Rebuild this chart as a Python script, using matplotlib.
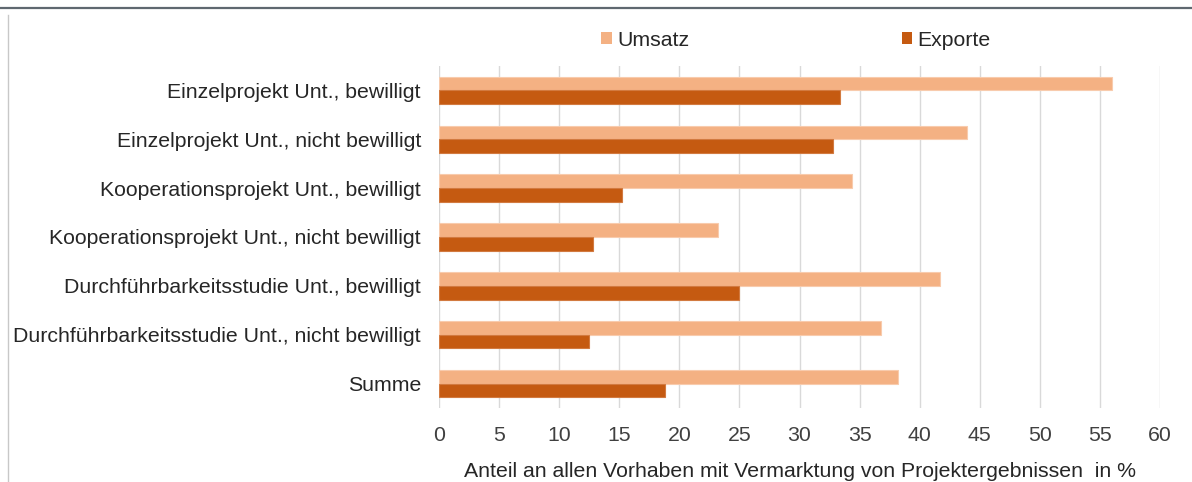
import matplotlib
matplotlib.use("Agg")
import matplotlib.pyplot as plt
from matplotlib.lines import Line2D
from matplotlib.patches import Patch
import numpy as np

categories = [
    "Einzelprojekt Unt., bewilligt",
    "Einzelprojekt Unt., nicht bewilligt",
    "Kooperationsprojekt Unt., bewilligt",
    "Kooperationsprojekt Unt., nicht bewilligt",
    "Durchführbarkeitsstudie Unt., bewilligt",
    "Durchführbarkeitsstudie Unt., nicht bewilligt",
    "Summe",
]
umsatz = [56.0, 43.9, 34.4, 23.2, 41.7, 36.8, 38.2]
exporte = [33.4, 32.8, 15.2, 12.8, 25.0, 12.5, 18.8]
xticks = [0, 5, 10, 15, 20, 25, 30, 35, 40, 45, 50, 55, 60]
xlabel = "Anteil an allen Vorhaben mit Vermarktung von Projektergebnissen  in %"

c_ums = "#F4B183"
c_exp = "#C55A11"
fs = 15.3

plt.rcParams['font.family'] = ['Liberation Sans', 'DejaVu Sans']

fig = plt.figure(figsize=(11.92, 4.82), dpi=100)
ax = fig.add_axes([439/1192, 1-408/482, (1160-439)/1192, (408-66)/482])

y = np.arange(len(categories))
h = 0.28
ax.barh(y - h/2, umsatz, height=h, color=c_ums, edgecolor="#F8CBAD", linewidth=0.8, zorder=3)
ax.barh(y + h/2, exporte, height=h, color=c_exp, edgecolor="#D27A40", linewidth=0.8, zorder=3)

ax.set_ylim(len(categories) - 0.5, -0.5)
ax.set_xlim(0, 60)
ax.set_xticks(xticks)
ax.set_yticks(y)
ax.set_yticklabels(categories, fontsize=fs, color="#262626")
ax.tick_params(axis='x', labelsize=fs, colors="#404040", length=0, pad=13)
ax.tick_params(axis='y', length=0, pad=13)
ax.grid(axis='x', color="#D9D9D9", linewidth=1.0, zorder=0)
for s in ax.spines.values():
    s.set_visible(False)
ax.set_xlabel(xlabel, fontsize=fs, color="#262626", labelpad=12)

handles = [Patch(facecolor=c_ums, edgecolor='none'), Patch(facecolor=c_exp, edgecolor='none')]
fig.legend(handles, ["Umsatz", "Exporte"], loc='center', bbox_to_anchor=(796/1192, 1-40/482),
           ncol=2, frameon=False, fontsize=fs, handlelength=0.5, handleheight=0.5,
           handletextpad=0.25, columnspacing=10, labelcolor="#262626")

# frame decorations
fig.add_artist(Line2D([0, 1], [1-8/482, 1-8/482], color="#5F6870", linewidth=1.6))
fig.add_artist(Line2D([8/1192, 8/1192], [0, 1-15/482], color="#C8C8C8", linewidth=1.0))

fig.savefig("out.png", dpi=100)
